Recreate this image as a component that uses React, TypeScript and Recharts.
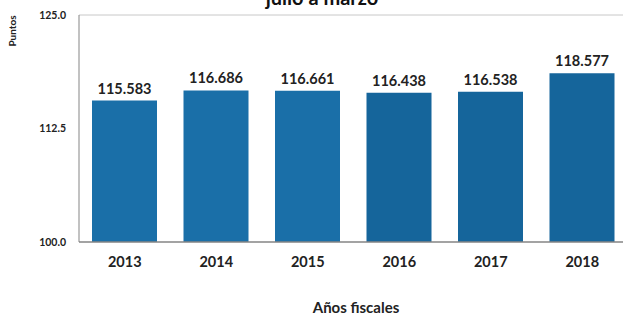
import React from "react";
import { BarChart, Bar, XAxis, YAxis, Cell, LabelList, ReferenceLine } from "recharts";

const years = ["2013", "2014", "2015", "2016", "2017", "2018"];
const values = [115.583, 116.686, 116.661, 116.438, 116.538, 118.577];
const barColors = ["#1a6fa8", "#1a6fa8", "#1a6fa8", "#15659b", "#15659b", "#15659b"];
const yTicks = [100, 112.5, 125];

const data = years.map((y, i) => ({ year: y, value: values[i] }));

const FONT = "Lato, 'Open Sans', sans-serif";

export default function App() {
  return (
    <div style={{ position: "fixed", left: 0, top: 0, width: 623, height: 315, overflow: "hidden", background: "#fff", fontFamily: FONT }}>
      <BarChart
        width={640}
        height={315}
        data={data}
        margin={{ top: 15, right: 12, bottom: 0, left: 0 }}
        barSize={65}
      >
        <ReferenceLine y={125} stroke="#c8c8c8" strokeWidth={1} ifOverflow="visible" />
        <XAxis
          dataKey="year"
          height={73}
          axisLine={{ stroke: "#858585", strokeWidth: 1.5 }}
          tickLine={false}
          tickSize={0}
          tickMargin={15}
          tick={{ fontSize: 14.5, fontWeight: 700, fill: "#222", fontFamily: FONT }}
        />
        <YAxis
          domain={[100, 125]}
          ticks={yTicks}
          width={79}
          axisLine={{ stroke: "#858585", strokeWidth: 1 }}
          tickLine={false}
          tickSize={0}
          tickMargin={13}
          tickFormatter={(v: number) => v.toFixed(1)}
          tick={{ fontSize: 10.5, fontWeight: 700, fill: "#222", fontFamily: FONT }}
        />
        <Bar dataKey="value" isAnimationActive={false}>
          {data.map((d, i) => (
            <Cell key={d.year} fill={barColors[i]} />
          ))}
          <LabelList
            dataKey="value"
            position="top"
            offset={7}
            formatter={(v: number) => v.toFixed(3)}
            style={{ fontSize: 14.5, fontWeight: 700, fill: "#222", fontFamily: FONT }}
          />
        </Bar>
      </BarChart>
      <svg width={623} height={315} style={{ position: "absolute", left: 0, top: 0, pointerEvents: "none" }}>
        <text x={322} y={5} textAnchor="middle" fontSize={20} fontWeight={700} fill="#111" fontFamily={FONT}>
          julio a marzo
        </text>
        <text
          x={16}
          y={31}
          transform="rotate(-90 16 31)"
          textAnchor="middle"
          fontSize={10}
          fontWeight={700}
          fill="#222"
          fontFamily={FONT}
        >
          Puntos
        </text>
        <text x={356} y={313} textAnchor="middle" fontSize={15} fontWeight={700} fill="#222" fontFamily={FONT}>
          Años fiscales
        </text>
      </svg>
    </div>
  );
}
